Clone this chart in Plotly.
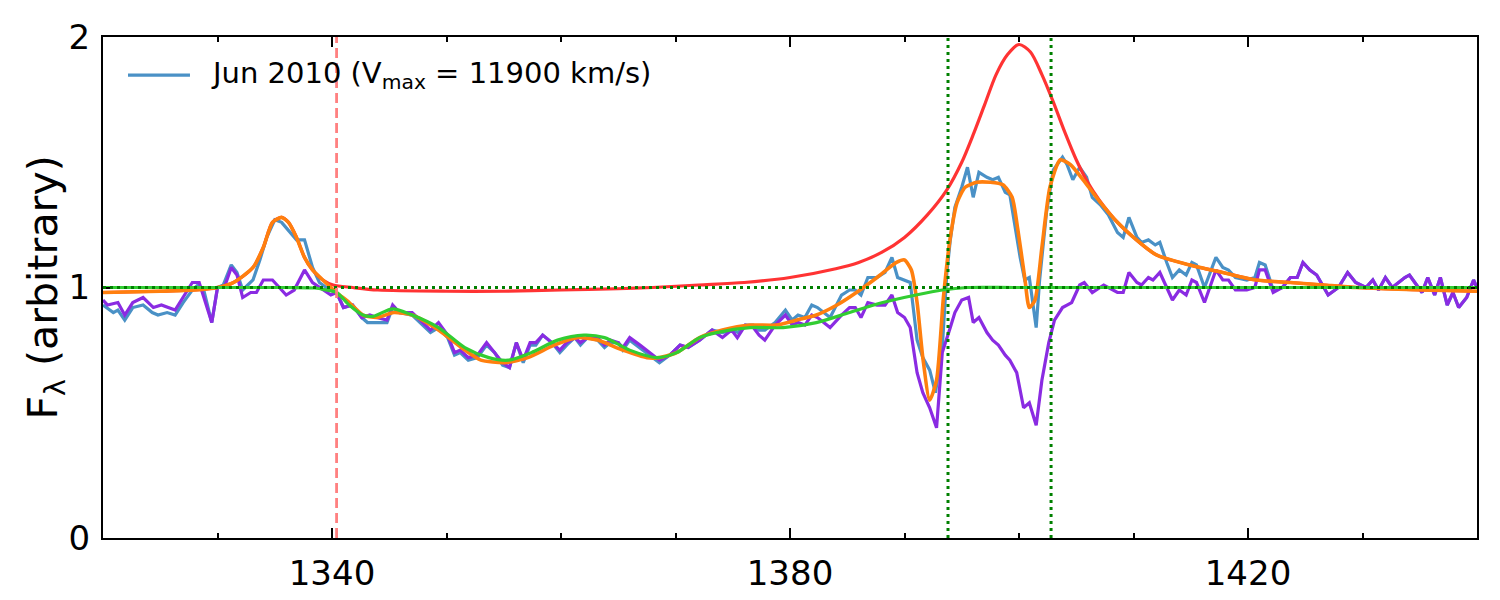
import plotly.graph_objects as go

# ---------------- data ----------------
# observed spectrum, Jun 2010 (blue)
wl_obs = [1320.0,1320.9,1321.3,1321.9,1322.6,1323.5,1324.3,1324.8,1325.6,1326.3,1327.0,1327.8,1328.3,1328.8,1329.5,1330.0,1330.5,1331.2,1331.7,1332.2,1333.1,1333.7,1334.3,1335.0,1335.6,1336.3,1336.9,1337.6,1338.3,1338.9,1339.8,1340.4,1341.0,1341.8,1342.6,1343.1,1343.9,1344.8,1345.3,1345.9,1347.0,1347.7,1348.6,1349.3,1350.1,1350.7,1351.2,1351.9,1352.7,1353.5,1354.2,1354.9,1355.5,1356.1,1356.7,1357.3,1357.8,1358.4,1359.2,1359.9,1360.5,1361.2,1361.7,1362.3,1363.2,1363.8,1364.3,1365.0,1365.4,1366.0,1366.9,1367.8,1368.6,1369.5,1370.4,1371.1,1372.1,1373.2,1374.1,1374.9,1375.5,1376.1,1376.8,1377.3,1377.8,1378.7,1379.6,1380.2,1380.7,1381.3,1381.9,1382.4,1383.5,1384.5,1385.2,1385.7,1386.2,1386.8,1387.6,1388.3,1388.9,1389.4,1390.0,1390.5,1391.1,1391.6,1392.2,1392.7,1393.3,1393.7,1394.0,1394.4,1395.0,1395.5,1396.0,1396.5,1397.2,1397.7,1398.2,1398.8,1399.2,1399.6,1400.1,1400.5,1400.9,1401.5,1401.8,1402.4,1403.0,1403.8,1404.2,1404.7,1405.3,1405.9,1406.4,1407.1,1407.8,1408.6,1409.1,1409.6,1410.3,1410.7,1411.3,1411.9,1412.3,1412.9,1413.4,1414.0,1414.6,1415.1,1415.5,1416.2,1417.2,1417.8,1418.3,1418.9,1419.9,1420.6,1421.0,1421.5,1422.2,1423.0,1423.7,1424.3,1424.8,1425.4,1426.0,1427.0,1427.9,1428.7,1429.4,1430.3,1430.9,1431.4,1432.0,1432.6,1433.1,1433.7,1434.1,1434.6,1435.2,1435.7,1436.3,1436.8,1437.4,1437.9,1438.4,1439.1,1439.7,1440.0]
f_obs = [0.93,0.90,0.91,0.87,0.92,0.93,0.90,0.89,0.90,0.89,0.94,0.99,1.01,0.99,0.86,1.00,1.01,1.09,1.06,0.99,1.03,1.11,1.20,1.27,1.26,1.22,1.19,1.19,1.08,1.02,0.99,0.98,0.92,0.93,0.88,0.86,0.86,0.86,0.92,0.90,0.89,0.86,0.82,0.84,0.80,0.73,0.74,0.71,0.72,0.77,0.74,0.69,0.68,0.78,0.70,0.77,0.77,0.81,0.78,0.74,0.77,0.80,0.77,0.80,0.79,0.76,0.78,0.78,0.75,0.79,0.76,0.73,0.70,0.73,0.77,0.76,0.79,0.83,0.82,0.83,0.82,0.85,0.85,0.83,0.83,0.86,0.91,0.87,0.89,0.88,0.93,0.92,0.88,0.97,0.99,0.99,0.97,1.04,1.04,1.06,1.12,1.04,1.03,1.02,0.79,0.72,0.67,0.58,0.76,1.06,1.19,1.32,1.40,1.48,1.36,1.46,1.44,1.43,1.44,1.38,1.37,1.26,1.12,1.03,1.04,0.84,1.03,1.30,1.47,1.52,1.49,1.43,1.48,1.44,1.36,1.33,1.29,1.22,1.20,1.28,1.20,1.18,1.19,1.17,1.18,1.10,1.04,1.07,1.05,1.10,1.09,1.00,1.12,1.08,1.07,1.04,1.03,1.04,1.10,1.09,0.99,1.00,1.04,1.04,1.10,1.07,1.05,0.97,1.00,1.06,1.02,1.00,1.03,0.99,1.04,1.00,1.02,1.04,1.05,1.02,0.98,1.04,0.97,1.04,0.93,0.98,0.92,0.96,1.03,1.00]

# spectrum divided by the emission model (purple)
wl_div = [1320.0,1320.4,1321.3,1321.9,1322.6,1323.5,1324.4,1325.1,1326.3,1327.0,1327.8,1328.4,1329.5,1330.0,1330.6,1331.2,1331.7,1332.2,1332.9,1333.4,1334.0,1334.8,1335.4,1336.0,1336.7,1337.6,1338.3,1339.2,1339.9,1340.4,1341.0,1341.8,1342.6,1343.3,1343.9,1344.8,1345.3,1345.9,1347.0,1347.7,1348.6,1349.3,1350.1,1350.7,1351.2,1351.9,1352.7,1353.5,1354.2,1354.9,1355.5,1356.1,1356.7,1357.3,1357.8,1358.4,1359.2,1359.9,1360.5,1361.2,1361.7,1362.3,1363.2,1363.8,1364.3,1365.0,1365.4,1366.0,1366.9,1367.8,1368.6,1369.5,1370.4,1371.1,1372.1,1373.2,1374.1,1374.9,1375.4,1376.1,1376.8,1377.3,1377.8,1378.7,1379.6,1380.2,1380.7,1381.3,1381.9,1382.4,1383.5,1384.5,1385.2,1385.7,1386.2,1386.8,1387.6,1388.3,1388.9,1389.4,1390.0,1390.5,1391.1,1391.6,1392.2,1392.8,1393.3,1394.0,1394.4,1395.0,1395.6,1396.0,1396.5,1397.2,1397.7,1398.2,1398.8,1399.2,1399.8,1400.4,1400.9,1401.5,1402.0,1402.6,1403.1,1403.8,1404.6,1405.3,1405.7,1406.4,1407.4,1408.6,1409.1,1409.6,1410.3,1410.7,1411.3,1411.7,1412.3,1412.9,1413.4,1414.0,1414.6,1415.1,1415.5,1416.2,1417.2,1417.8,1418.3,1418.9,1419.9,1420.6,1421.0,1421.5,1422.2,1423.0,1423.7,1424.3,1424.8,1425.4,1426.0,1427.0,1427.9,1428.7,1429.4,1430.3,1430.9,1431.4,1432.0,1432.6,1433.1,1433.7,1434.1,1434.6,1435.2,1435.7,1436.3,1436.8,1437.4,1437.9,1438.4,1439.1,1439.7,1440.0]
f_div = [0.95,0.93,0.94,0.89,0.94,0.96,0.92,0.93,0.91,0.96,1.02,1.02,0.86,1.00,1.00,1.08,1.05,0.96,0.98,0.98,1.03,1.03,1.00,0.97,0.99,1.07,1.02,0.99,0.97,0.98,0.92,0.93,0.88,0.89,0.88,0.87,0.93,0.90,0.90,0.87,0.83,0.86,0.81,0.74,0.75,0.72,0.73,0.78,0.74,0.70,0.68,0.78,0.71,0.78,0.78,0.81,0.78,0.75,0.78,0.80,0.78,0.80,0.80,0.77,0.79,0.78,0.76,0.80,0.77,0.74,0.71,0.73,0.77,0.76,0.79,0.83,0.80,0.83,0.80,0.85,0.84,0.81,0.79,0.85,0.89,0.85,0.86,0.85,0.89,0.88,0.84,0.89,0.92,0.92,0.88,0.94,0.93,0.93,0.97,0.90,0.88,0.84,0.66,0.58,0.52,0.44,0.74,0.84,0.90,0.95,0.96,0.86,0.88,0.82,0.79,0.77,0.73,0.71,0.66,0.52,0.54,0.45,0.63,0.78,0.87,0.92,0.94,1.01,1.02,0.98,1.01,0.98,0.98,1.06,1.02,1.01,1.04,1.03,1.06,1.00,0.95,0.99,0.97,1.03,1.02,0.94,1.07,1.03,1.03,0.99,0.99,1.00,1.07,1.07,0.98,1.00,1.04,1.04,1.10,1.07,1.05,0.97,1.00,1.06,1.02,1.00,1.03,0.99,1.04,1.00,1.02,1.04,1.05,1.02,0.98,1.04,0.97,1.04,0.93,0.98,0.92,0.96,1.03,1.00]

# emission model (red)
wl_em = [1320,1325,1328,1330,1331.4,1333.1,1334.0,1334.8,1335.6,1336.2,1336.9,1337.6,1338.3,1339.2,1340.1,1341.8,1344,1350,1355,1360,1365,1368,1372,1376,1380,1384,1386,1388,1390,1392,1393.7,1395,1396,1397,1398,1399,1400,1401,1402,1403,1404,1405,1406,1407,1408.6,1410.0,1412.0,1414.9,1417.8,1420.7,1423.7,1426.6,1429.5,1435.3,1440]
f_em = [0.98,0.985,0.99,1.00,1.02,1.08,1.16,1.26,1.28,1.26,1.20,1.12,1.07,1.03,1.01,1.00,0.99,0.985,0.985,0.99,0.995,1.00,1.01,1.02,1.04,1.075,1.10,1.14,1.20,1.29,1.39,1.50,1.61,1.73,1.85,1.93,1.97,1.94,1.85,1.74,1.62,1.51,1.42,1.35,1.26,1.20,1.13,1.09,1.06,1.03,1.02,1.01,1.00,0.99,0.985]

# full model (orange)
wl_fit = [1320,1325,1328,1330,1331.4,1333.1,1334.0,1334.8,1335.6,1336.2,1336.9,1337.6,1338.3,1339.2,1340.4,1341.5,1342.7,1343.9,1345.4,1347.0,1349.3,1351.6,1353.0,1355.1,1357.1,1359.4,1361.4,1363.2,1365.4,1367.5,1368.6,1370.1,1372.1,1374.1,1376.5,1378.8,1380.6,1382.3,1384.1,1385.8,1387.6,1389.3,1390.0,1390.6,1391.1,1391.6,1392.2,1392.8,1393.4,1394.0,1394.6,1395.3,1396.3,1397.5,1398.6,1399.4,1399.9,1400.5,1400.9,1401.4,1402.0,1402.7,1403.6,1404.5,1405.6,1407.1,1408.6,1410.0,1412.0,1414.9,1417.8,1420.7,1423.7,1426.6,1429.5,1435.3,1440]
f_fit = [0.98,0.985,0.99,1.00,1.02,1.08,1.16,1.26,1.28,1.26,1.20,1.12,1.07,1.03,0.98,0.94,0.89,0.88,0.90,0.89,0.83,0.75,0.71,0.70,0.72,0.77,0.80,0.79,0.75,0.72,0.72,0.74,0.80,0.83,0.85,0.85,0.87,0.89,0.93,0.98,1.04,1.10,1.11,1.07,0.94,0.72,0.55,0.63,0.96,1.20,1.34,1.40,1.42,1.42,1.41,1.36,1.23,1.04,0.92,0.95,1.16,1.40,1.51,1.49,1.43,1.34,1.26,1.20,1.13,1.09,1.06,1.03,1.02,1.01,1.00,0.99,0.985]

# absorption model (green)
wl_abs = [1320,1336,1338.5,1339.5,1340.4,1341.5,1342.7,1343.6,1345.3,1347.0,1349.3,1351.6,1353.7,1355.4,1357.4,1359.7,1362.0,1363.8,1366.0,1368.4,1370.1,1372.1,1373.6,1376.5,1379.4,1382.3,1385.2,1388.1,1391.0,1393.3,1395.5,1400,1440]
f_abs = [1.00,1.00,0.998,0.99,0.98,0.93,0.89,0.885,0.915,0.89,0.84,0.76,0.72,0.71,0.74,0.79,0.81,0.80,0.75,0.72,0.74,0.80,0.82,0.84,0.84,0.86,0.90,0.94,0.97,0.99,1.00,1.00,1.00]

# reference lines
red_vline = [1340.4]
green_vlines = [1393.8, 1402.8]
continuum = 1.0

x_range = [1320, 1440]
y_range = [0, 2]
x_ticks = [1340, 1380, 1420]
y_ticks = [0, 1, 2]
legend_label = "Jun 2010 (V<sub>max</sub> = 11900 km/s)"

# ---------------- figure ----------------
BLUE = "#4a91c6"
PURPLE = "#8a2be2"
ORANGE = "#ff7f0e"
RED = "#ff3333"
LIME = "#32cd32"
DKGREEN = "#008000"
FONT = "DejaVu Sans"

fig = go.Figure()
fig.add_trace(go.Scatter(x=wl_obs, y=f_obs, mode="lines", line=dict(color=BLUE, width=3.2), showlegend=False))
fig.add_trace(go.Scatter(x=wl_div, y=f_div, mode="lines", line=dict(color=PURPLE, width=3.2), showlegend=False))
fig.add_trace(go.Scatter(x=wl_em, y=f_em, mode="lines", line=dict(color=RED, width=3.2, shape="spline", smoothing=0.8), showlegend=False))
fig.add_trace(go.Scatter(x=wl_fit, y=f_fit, mode="lines", line=dict(color=ORANGE, width=3.6, shape="spline", smoothing=0.6), showlegend=False))
fig.add_trace(go.Scatter(x=wl_abs, y=f_abs, mode="lines", line=dict(color=LIME, width=3.2, shape="spline", smoothing=0.8), showlegend=False))

# continuum and velocity markers
fig.add_hline(y=continuum, line=dict(color=DKGREEN, width=3, dash="3px,4px"), layer="above")
for xv in green_vlines:
    fig.add_vline(x=xv, line=dict(color=DKGREEN, width=3, dash="3px,4px"), layer="above")
for xv in red_vline:
    fig.add_vline(x=xv, line=dict(color="#ff8080", width=2.8, dash="10px,5px"), layer="above")

# manual legend entry
fig.add_shape(type="line", xref="paper", yref="paper", x0=0.0182, x1=0.0633, y0=0.924, y1=0.924,
              line=dict(color=BLUE, width=3.2))
fig.add_annotation(xref="paper", yref="paper", x=0.077, y=0.924, xanchor="left", yanchor="middle",
                   text=legend_label, showarrow=False, font=dict(family=FONT, size=29, color="black"))

# y axis title
fig.add_annotation(xref="paper", yref="paper", x=0, y=0.5, xshift=-58, textangle=-90,
                   xanchor="center", yanchor="middle", showarrow=False,
                   text="F<sub>λ</sub> (arbitrary)", font=dict(family=FONT, size=41, color="black"))

axis_common = dict(showline=True, linecolor="black", linewidth=2, mirror="ticks", automargin=False,
                   ticks="inside", tickcolor="black", tickwidth=1.5, showgrid=False, zeroline=False,
                   tickfont=dict(family=FONT, size=34, color="black"))

fig.update_xaxes(range=x_range, tickvals=x_ticks, ticklen=10,
                 minor=dict(dtick=10, tick0=1320, ticks="inside", ticklen=5, tickcolor="black", tickwidth=1.5),
                 ticklabelstandoff=4, **axis_common)
fig.update_yaxes(range=y_range, tickvals=y_ticks, ticklen=10, ticklabelstandoff=4, **axis_common)

fig.update_layout(width=1500, height=600, margin=dict(l=103, r=23, t=37, b=62),
                  paper_bgcolor="white", plot_bgcolor="white", showlegend=False,
                  font=dict(family=FONT, color="black"))

fig.write_html("out.html")
